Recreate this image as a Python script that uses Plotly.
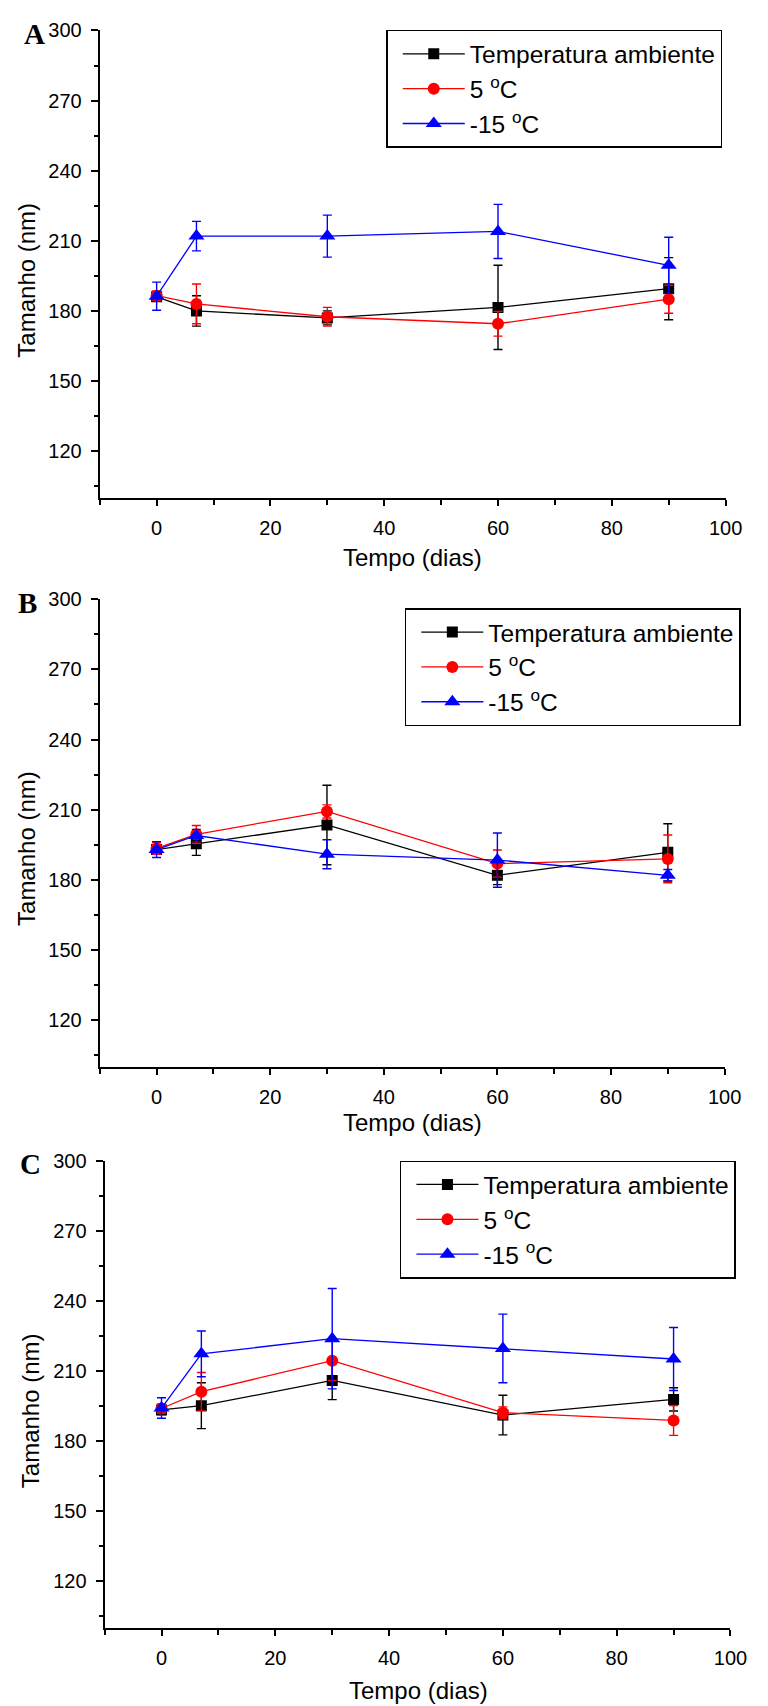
import plotly.graph_objects as go

# ---------------- data ----------------
dias = [0, 7, 30, 60, 90]

series_names = ["Temperatura ambiente", "5 <sup>o</sup>C", "-15 <sup>o</sup>C"]

# Panel A
amb_A = [186.0, 180.0, 177.0, 181.5, 189.5]
amb_A_err = [1.5, 6.5, 3.0, 18.0, 13.3]
cinco_A = [186.5, 183.0, 177.5, 174.5, 185.0]
cinco_A_err = [2.0, 8.5, 4.0, 5.3, 6.0]
menos15_A = [186.3, 212.0, 212.0, 214.0, 199.5]
menos15_A_err = [6.0, 6.3, 9.0, 11.6, 12.0]

# Panel B
amb_B = [193.0, 195.5, 203.5, 182.0, 191.8]
amb_B_err = [2.0, 5.0, 17.0, 4.0, 12.2]
cinco_B = [193.5, 199.5, 209.3, 187.0, 189.0]
cinco_B_err = [2.5, 3.8, 2.8, 5.8, 10.2]
menos15_B = [193.0, 199.0, 191.0, 188.5, 182.0]
menos15_B_err = [3.4, 2.6, 6.2, 11.6, 2.5]

# Panel C
amb_C = [193.2, 195.0, 205.8, 191.0, 197.7]
amb_C_err = [2.0, 9.8, 8.2, 8.5, 5.0]
cinco_C = [193.8, 201.0, 214.3, 192.0, 188.7]
cinco_C_err = [2.0, 8.2, 8.5, 2.5, 6.4]
menos15_C = [194.0, 217.2, 223.7, 219.5, 215.0]
menos15_C_err = [4.4, 9.8, 21.5, 14.7, 13.5]

panel_labels = ["A", "B", "C"]
x_title = "Tempo (dias)"
y_title = "Tamanho (nm)"

# ---------------- styling ----------------
W, H = 768, 1706
colors = ["#000000", "#FF0000", "#0000FF"]
symbols = ["square", "circle", "triangle-up"]
msizes = [11, 12, 14]
SANS = "Arial, Liberation Sans, sans-serif"
SERIF = "Times New Roman, Liberation Serif, serif"

panels = [
    dict(y=[amb_A, cinco_A, menos15_A], e=[amb_A_err, cinco_A_err, menos15_A_err],
         xdom=(102, 742), ydom=(19.6, 490), legend=(395, 19), letter=(35.5, 23),
         xt=(422, 550), yt=(27, 271)),
    dict(y=[amb_B, cinco_B, menos15_B], e=[amb_B_err, cinco_B_err, menos15_B_err],
         xdom=(102, 741), ydom=(592, 1063), legend=(414, 601), letter=(28, 596),
         xt=(422, 1119), yt=(27, 843)),
    dict(y=[amb_C, cinco_C, menos15_C], e=[amb_C_err, cinco_C_err, menos15_C_err],
         xdom=(107, 747), ydom=(1157, 1627), legend=(409, 1157), letter=(31, 1160),
         xt=(428, 1690), yt=(32, 1409)),
]

fig = go.Figure()
layout = dict(width=W, height=H, margin=dict(l=0, r=0, t=0, b=0),
              paper_bgcolor="white", plot_bgcolor="white", showlegend=True,
              font=dict(family=SANS, color="black"))
annotations = []

for i, p in enumerate(panels):
    sfx = "" if i == 0 else str(i + 1)
    lg = "legend" + sfx
    for k in range(3):
        fig.add_trace(go.Scatter(
            x=dias, y=p["y"][k], name=series_names[k], mode="lines+markers",
            line=dict(color=colors[k], width=1.3),
            marker=dict(symbol=symbols[k], size=msizes[k], color=colors[k]),
            error_y=dict(type="data", array=p["e"][k], visible=True,
                         color=colors[k], thickness=1.4, width=4.5),
            xaxis="x" + sfx, yaxis="y" + sfx, legend=lg,
        ))
    x0, x1 = p["xdom"]
    y0, y1 = p["ydom"]
    layout["xaxis" + sfx] = dict(
        domain=[x0 / W, x1 / W], anchor="y" + sfx, range=[-10, 100],
        tickmode="linear", tick0=0, dtick=20, ticks="outside", ticklen=6, tickwidth=1.5,
        minor=dict(dtick=10, tick0=0, ticks="outside", ticklen=5, tickwidth=1.5, tickcolor="black"),
        showline=True, linewidth=2, linecolor="black", showgrid=False, zeroline=False,
        tickfont=dict(size=20, family=SANS), ticklabelstandoff=5, tickcolor="black",
    )
    layout["yaxis" + sfx] = dict(
        domain=[1 - y1 / H, 1 - y0 / H], anchor="x" + sfx, range=[100, 300],
        tickmode="linear", tick0=0, dtick=30, ticks="outside", ticklen=7, tickwidth=1.5,
        minor=dict(dtick=15, tick0=0, ticks="outside", ticklen=4, tickwidth=1.5, tickcolor="black"),
        showline=True, linewidth=2, linecolor="black", showgrid=False, zeroline=False,
        tickfont=dict(size=20, family=SANS), ticklabelstandoff=5, tickcolor="black",
    )
    lx, ly = p["legend"]
    layout[lg] = dict(x=lx / W, y=1 - ly / H, xref="paper", yref="paper",
                      xanchor="left", yanchor="top", bgcolor="white",
                      bordercolor="black", borderwidth=1.5,
                      font=dict(size=24.5, family=SANS, color="black"),
                      tracegroupgap=0, itemwidth=62, indentation=10)
    annotations.append(dict(text="<b>%s</b>" % panel_labels[i], x=p["letter"][0] / W,
                            y=1 - p["letter"][1] / H, xref="paper", yref="paper",
                            showarrow=False, xanchor="center", yanchor="middle",
                            font=dict(size=29, family=SERIF, color="black")))
    annotations.append(dict(text=x_title, x=p["xt"][0] / W, y=1 - p["xt"][1] / H,
                            xref="paper", yref="paper", showarrow=False,
                            xanchor="center", yanchor="middle",
                            font=dict(size=24, family=SANS, color="black")))
    annotations.append(dict(text=y_title, x=p["yt"][0] / W, y=1 - p["yt"][1] / H,
                            xref="paper", yref="paper", showarrow=False, textangle=-90,
                            xanchor="center", yanchor="middle",
                            font=dict(size=24, family=SANS, color="black")))

layout["annotations"] = annotations
fig.update_layout(**layout)
fig.write_html("out.html")
